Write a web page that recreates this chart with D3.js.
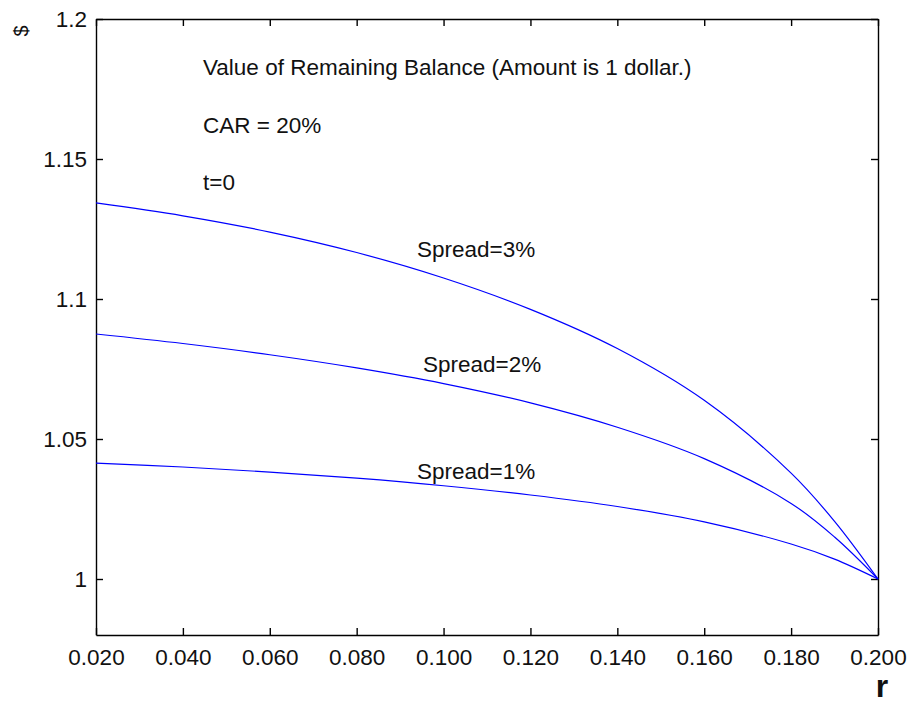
<!DOCTYPE html>
<html>
<head>
<meta charset="utf-8">
<script src="https://cdn.jsdelivr.net/npm/d3@7/dist/d3.min.js"></script>
<style>
  html, body { margin: 0; padding: 0; background: #fff; }
  svg { display: block; }
  text { font-family: "Liberation Sans", Arial, sans-serif; fill: #111; }
</style>
</head>
<body>
<svg id="chart" width="908" height="704"></svg>
<script>
// ---- data ----
const rValues = [0.02, 0.04, 0.06, 0.08, 0.10, 0.12, 0.14, 0.16, 0.18, 0.19, 0.2];
const spread3 = [1.1343, 1.1297, 1.1239, 1.1166, 1.1075, 1.0963, 1.0823, 1.0638, 1.0378, 1.0206, 1.0];
const spread2 = [1.0875, 1.0841, 1.0801, 1.0754, 1.0698, 1.0629, 1.0542, 1.0430, 1.0270, 1.0150, 1.0];
const spread1 = [1.0414, 1.0400, 1.0382, 1.0360, 1.0333, 1.0300, 1.0259, 1.0204, 1.0125, 1.0071, 1.0];
const seriesNames = ["Spread=3%", "Spread=2%", "Spread=1%"];
const xTicks = [0.02, 0.04, 0.06, 0.08, 0.10, 0.12, 0.14, 0.16, 0.18, 0.20];
const yTicks = [1, 1.05, 1.1, 1.15, 1.2];
const yTickLabels = ["1", "1.05", "1.1", "1.15", "1.2"];
const annotations = ["Value of Remaining Balance (Amount is 1 dollar.)", "CAR = 20%", "t=0"];
const xLabel = "r";
const yLabel = "$";

// ---- layout ----
const plotL = 96, plotR = 878, plotT = 19, plotB = 635;
const svg = d3.select("#chart");
svg.append("rect").attr("width", 908).attr("height", 704).attr("fill", "#fff");

const x = d3.scaleLinear().domain([0.02, 0.2]).range([plotL, plotR]);
const y = d3.scaleLinear().domain([0.98, 1.2]).range([plotB, plotT]);

const tickLen = 7;
const fontSize = 22.5;

// bottom axis
const gx = svg.append("g").attr("transform", `translate(0,${plotB})`)
  .call(d3.axisBottom(x).tickValues(xTicks).tickFormat(d3.format(".3f"))
    .tickSizeInner(-tickLen).tickSizeOuter(0).tickPadding(10));
// left axis
const gy = svg.append("g").attr("transform", `translate(${plotL},0)`)
  .call(d3.axisLeft(y).tickValues(yTicks).tickFormat((d, i) => yTickLabels[i])
    .tickSizeInner(-tickLen).tickSizeOuter(0).tickPadding(9));
// top axis
const gt = svg.append("g").attr("transform", `translate(0,${plotT})`)
  .call(d3.axisTop(x).tickValues(xTicks).tickFormat("")
    .tickSizeInner(-tickLen).tickSizeOuter(0));
// right axis
const gr = svg.append("g").attr("transform", `translate(${plotR},0)`)
  .call(d3.axisRight(y).tickValues(yTicks).tickFormat("")
    .tickSizeInner(-tickLen).tickSizeOuter(0));

[gx, gy, gt, gr].forEach(g => {
  g.selectAll("path.domain").attr("stroke", "#000").attr("stroke-width", 1.4);
  g.selectAll(".tick line").attr("stroke", "#000").attr("stroke-width", 1.4);
  g.selectAll(".tick text")
    .style("font-family", '"Liberation Sans", Arial, sans-serif')
    .style("font-size", fontSize + "px")
    .attr("fill", "#111");
});
gx.selectAll(".tick text").attr("dy", null).attr("y", 30);
gy.selectAll(".tick text").attr("dy", "0.35em");

// curves
const seriesValues = [spread3, spread2, spread1];
const line = d3.line()
  .x((d, i) => x(rValues[i]))
  .y(d => y(d))
  .curve(d3.curveCatmullRom.alpha(0.5));
svg.append("g").selectAll("path.series")
  .data(seriesValues).join("path")
  .attr("class", "series")
  .attr("d", line)
  .attr("fill", "none")
  .attr("stroke", "#0000ff")
  .attr("stroke-width", 1.2);

// series labels
const labelPos = [[417, 257], [423, 372], [417, 479]];
svg.append("g").selectAll("text")
  .data(seriesNames).join("text")
  .attr("x", (d, i) => labelPos[i][0])
  .attr("y", (d, i) => labelPos[i][1])
  .style("font-size", "22.5px")
  .text(d => d);

// annotations
const annPos = [[203, 75], [203, 133], [203, 190]];
svg.append("g").selectAll("text")
  .data(annotations).join("text")
  .attr("x", (d, i) => annPos[i][0])
  .attr("y", (d, i) => annPos[i][1])
  .style("font-size", "22.5px")
  .text(d => d);

// axis labels
svg.append("text")
  .attr("x", 882).attr("y", 697)
  .attr("text-anchor", "middle")
  .style("font-size", "32px").style("font-weight", "bold")
  .text(xLabel);
svg.append("text")
  .attr("transform", "translate(28,31) rotate(-90)")
  .attr("text-anchor", "middle")
  .style("font-size", "20px")
  .text(yLabel);
</script>
</body>
</html>
